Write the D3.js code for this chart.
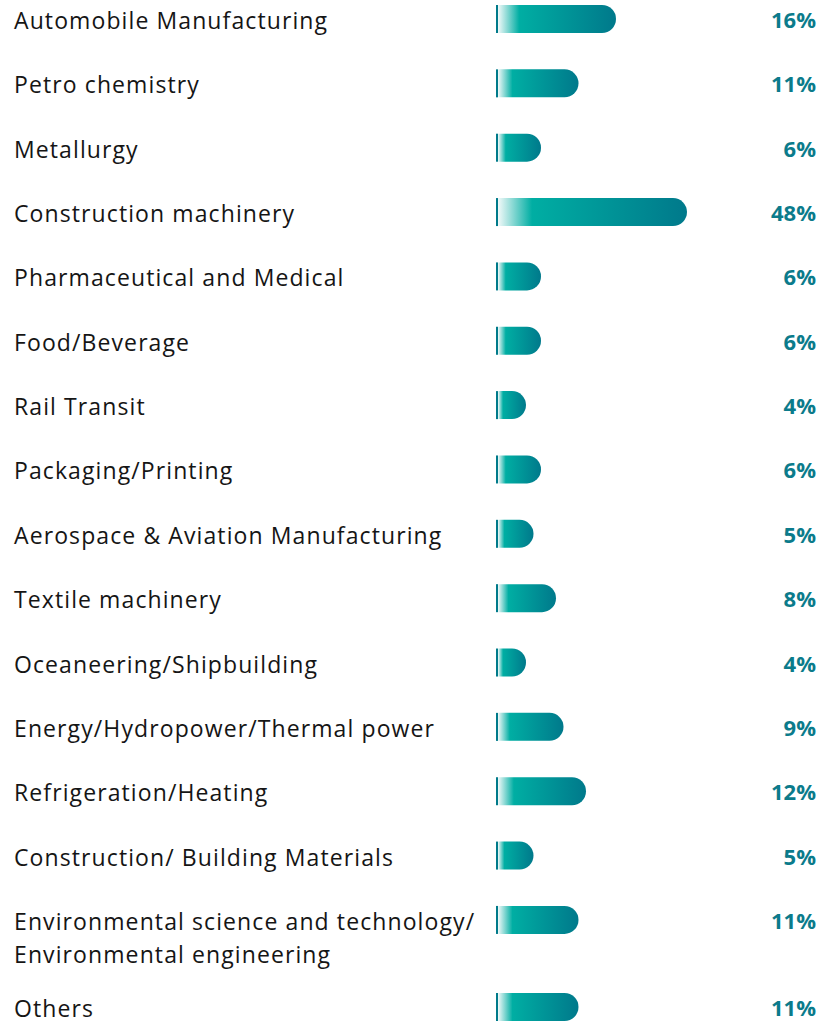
<!DOCTYPE html>
<html>
<head>
<meta charset="utf-8">
<script src="https://cdn.jsdelivr.net/npm/d3@7"></script>
<style>
  body { margin: 0; background: #fff; }
  svg { display: block; }
</style>
</head>
<body>
<div id="chart-area"></div>
<script>
// industries, "\n" marks a line break in the label
const categories = [
    "Automobile Manufacturing",
    "Petro chemistry",
    "Metallurgy",
    "Construction machinery",
    "Pharmaceutical and Medical",
    "Food/Beverage",
    "Rail Transit",
    "Packaging/Printing",
    "Aerospace & Aviation Manufacturing",
    "Textile machinery",
    "Oceaneering/Shipbuilding",
    "Energy/Hydropower/Thermal power",
    "Refrigeration/Heating",
    "Construction/ Building Materials",
    "Environmental science and technology/\nEnvironmental engineering",
    "Others"
];
const shares = [16, 11, 6, 48, 6, 6, 4, 6, 5, 8, 4, 9, 12, 5, 11, 11];

const width = 821, height = 1025;
const barH = 28, r = 14;
const svg = d3.select("#chart-area")
    .append("svg")
    .attr("width", width)
    .attr("height", height);

const grad = svg.append("defs").append("linearGradient")
    .attr("id", "barGrad");
grad.append("stop").attr("offset", "0%").attr("stop-color", "#f2f9f9");
grad.append("stop").attr("offset", "18%").attr("stop-color", "#00aea3");
grad.append("stop").attr("offset", "100%").attr("stop-color", "#00798b");

const rows = categories.map((c, i) => ({ label: c.split("\n"), value: shares[i] }));
// two-line labels take a bit more room
let acc = 0;
rows.forEach(d => { d.pos = acc; acc += d.label.length > 1 ? 1.353 : 1; });

const y = d3.scaleLinear()
    .domain([0, 15.353])
    .range([19, 1007]);

// the chart squeezes the big value, so the scale has a knee at 16%
const x = d3.scaleLinear()
    .domain([0, 16, 48])
    .range([496, 616, 687]);

const g = svg.selectAll("g.row")
    .data(rows)
    .enter()
    .append("g")
    .attr("class", "row")
    .attr("transform", d => "translate(0, " + y(d.pos) + ")");

g.append("rect")
    .attr("x", x(0))
    .attr("y", -barH / 2)
    .attr("width", 2)
    .attr("height", barH)
    .attr("fill", "#007a8a");

g.append("path")
    .attr("d", d => {
        const x0 = x(0) + 2, x1 = x(d.value);
        return "M" + x0 + "," + (-r) + "H" + (x1 - r) +
            "A" + r + "," + r + " 0 0 1 " + (x1 - r) + "," + r +
            "H" + x0 + "Z";
    })
    .attr("fill", "url(#barGrad)");

g.append("text")
    .attr("x", 14)
    .attr("y", 10)
    .attr("font-family", "'Open Sans', sans-serif")
    .attr("font-size", "23px")
    .attr("letter-spacing", "1.1px")
    .attr("fill", "#151515")
    .selectAll("tspan")
    .data(d => d.label)
    .enter()
    .append("tspan")
    .attr("x", 14)
    .attr("dy", (d, i) => i === 0 ? 0 : 33)
    .text(d => d);

g.append("text")
    .attr("x", 816)
    .attr("y", 9)
    .attr("text-anchor", "end")
    .attr("font-family", "'Open Sans', sans-serif")
    .attr("font-size", "22px")
    .attr("font-weight", "bold")
    .attr("fill", "#0b7b8b")
    .text(d => d.value + "%");
</script>
</body>
</html>
